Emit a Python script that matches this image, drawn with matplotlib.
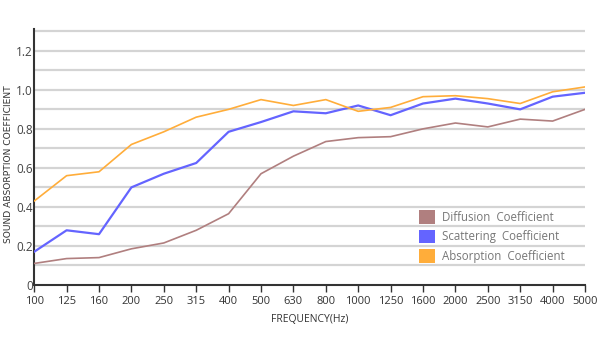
import matplotlib
matplotlib.use("Agg")
import matplotlib.pyplot as plt
from matplotlib.patches import Patch
import numpy as np

plt.rcParams['font.family'] = ['Open Sans', 'DejaVu Sans']

freqs = ["100", "125", "160", "200", "250", "315", "400", "500", "630", "800",
         "1000", "1250", "1600", "2000", "2500", "3150", "4000", "5000"]
diffusion = [0.11, 0.135, 0.14, 0.185, 0.215, 0.28, 0.365, 0.57, 0.66, 0.735,
             0.755, 0.76, 0.80, 0.83, 0.81, 0.85, 0.84, 0.90]
scattering = [0.17, 0.28, 0.26, 0.50, 0.57, 0.625, 0.785, 0.835, 0.89, 0.88,
              0.92, 0.87, 0.93, 0.955, 0.93, 0.90, 0.965, 0.985]
absorption = [0.43, 0.56, 0.58, 0.72, 0.785, 0.86, 0.90, 0.95, 0.92, 0.95,
              0.89, 0.91, 0.965, 0.97, 0.955, 0.93, 0.99, 1.015]
labels = ["Diffusion  Coefficient", "Scattering  Coefficient", "Absorption  Coefficient"]
colors = ["#b07f7f", "#6464ff", "#ffad3a"]

fig = plt.figure(figsize=(6, 3.5), dpi=100)
ax = fig.add_axes([0.057, 0.186, 0.918, 0.73])

x = np.arange(len(freqs))
for yv in np.arange(0.1, 1.35, 0.1):
    ax.axhline(yv, color="#d4d4d4", lw=1.6, zorder=1)

ax.plot(x, diffusion, color=colors[0], lw=1.2, zorder=3)
ax.plot(x, scattering, color=colors[1], lw=1.6, zorder=3)
ax.plot(x, absorption, color=colors[2], lw=1.2, zorder=3)

ax.set_xlim(0, len(freqs) - 1)
ax.set_ylim(0, 1.31)
ax.set_xticks(x)
ax.set_xticklabels(freqs, fontsize=8, color="#333333")
ax.set_yticks([0, 0.2, 0.4, 0.6, 0.8, 1.0, 1.2])
ax.set_yticklabels(["0", "0.2", "0.4", "0.6", "0.8", "1.0", "1.2"],
                   fontsize=8.5, color="#444444")
ax.tick_params(axis="x", direction="out", length=5, width=1, color="#333333", pad=3)
ax.tick_params(axis="y", length=0, pad=1)

for s in ["top", "right"]:
    ax.spines[s].set_visible(False)
ax.spines["left"].set_color("#333333")
ax.spines["left"].set_linewidth(1.5)
ax.spines["bottom"].set_color("#333333")
ax.spines["bottom"].set_linewidth(1.5)

ax.set_xlabel("FREQUENCY(Hz)", fontsize=7.5, color="#333333", labelpad=5)
fig.text(0.015, 0.53, "SOUND ABSORPTION COEFFICIENT", rotation=90, fontsize=6.6,
         color="#333333", ha="center", va="center", family="DejaVu Sans")

handles = [Patch(facecolor=c, edgecolor="none") for c in colors]
leg = ax.legend(handles, labels, loc="upper left", bbox_to_anchor=(0.69, 0.31),
                frameon=False, fontsize=8.3, handlelength=1.4, handleheight=1.45,
                handletextpad=0.6, labelspacing=0.5, borderaxespad=0)
for t in leg.get_texts():
    t.set_color("#777777")

fig.savefig("out.png", dpi=100)
